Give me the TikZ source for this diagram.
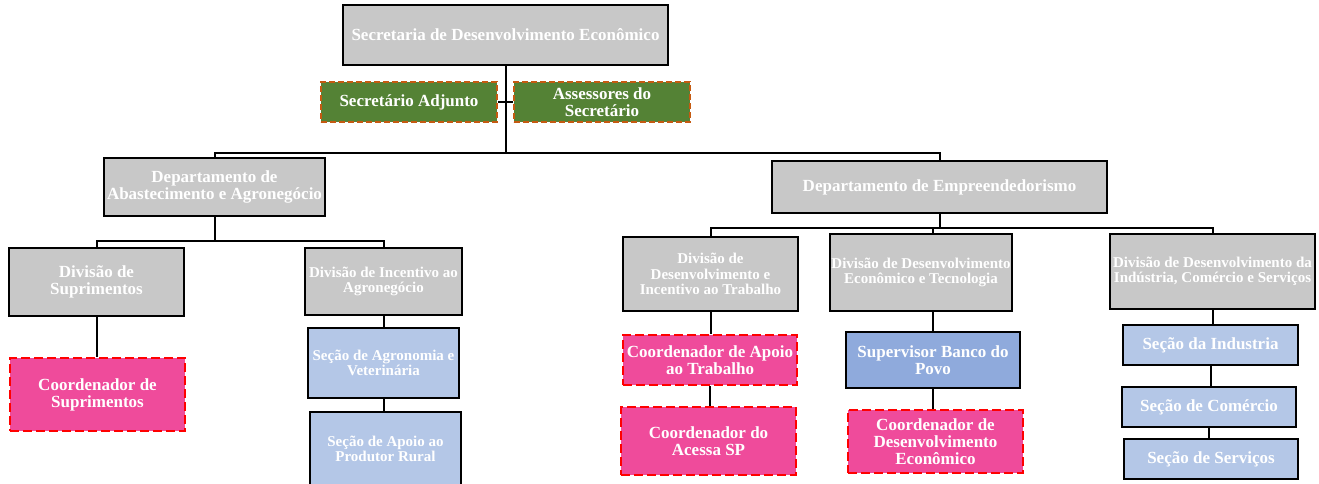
\documentclass[tikz,border=0pt]{standalone}
\usepackage{fontspec}
\setmainfont{Liberation Serif}
\definecolor{boxgray}{HTML}{C8C8C8}
\definecolor{leafgreen}{HTML}{548235}
\definecolor{rustorange}{HTML}{C55A11}
\definecolor{rosepink}{HTML}{EF4B9B}
\definecolor{paleblue}{HTML}{B4C7E7}
\definecolor{midblue}{HTML}{8FAADC}
\newcommand{\bigtxt}{\bfseries\fontsize{17}{17}\selectfont}
\newcommand{\smalltxt}{\bfseries\fontsize{15}{15.5}\selectfont}
\begin{document}
\begin{tikzpicture}[x=1pt,y=-1pt,
  box/.style={rectangle, inner sep=0pt, align=center, text=white, font=\bigtxt},
  graybox/.style={box, draw=black, line width=2.2pt, fill=boxgray},
  greenbox/.style={box, draw=rustorange, line width=2.4pt, dash pattern=on 6pt off 3pt, fill=leafgreen},
  pinkbox/.style={box, draw=red, line width=2.8pt, dash pattern=on 9pt off 4pt, fill=rosepink},
  bluebox/.style={box, draw=black, line width=2.2pt, fill=paleblue},
  darkbluebox/.style={box, draw=black, line width=2.2pt, fill=midblue},
  small/.style={font=\smalltxt},
  conn/.style={draw=black, line width=2pt}]
\useasboundingbox (0,0) rectangle (1319,483);

% top level
\node[graybox, minimum width=325pt, minimum height=60pt] (sec) at (505.5,35) {Secretaria de Desenvolvimento Econômico};
\node[greenbox, minimum width=176pt, minimum height=40pt] (adj) at (409,102) {Secretário Adjunto};
\node[greenbox, minimum width=176pt, minimum height=40pt] (ass) at (602,102) {Assessores do\\Secretário};

% departments
\node[graybox, minimum width=221pt, minimum height=58pt] (dab) at (214.5,187) {Departamento de\\Abastecimento e Agronegócio};
\node[graybox, minimum width=335pt, minimum height=52pt] (dem) at (939.5,187) {Departamento de Empreendedorismo};

% divisions
\node[graybox, minimum width=175pt, minimum height=68pt] (dsu) at (96.5,282) {Divisão de\\Suprimentos};
\node[graybox, small, minimum width=157pt, minimum height=67pt] (din) at (383.5,281.5) {Divisão de Incentivo ao\\Agronegócio};
\node[graybox, small, minimum width=175pt, minimum height=74pt] (dtr) at (710.5,274) {Divisão de\\Desenvolvimento e\\Incentivo ao Trabalho};
\node[graybox, small, minimum width=182pt, minimum height=77pt] (dte) at (921,272.5) {Divisão de Desenvolvimento\\Econômico e Tecnologia};
\node[graybox, small, minimum width=205pt, minimum height=75pt] (dis) at (1212.5,271.5) {Divisão de Desenvolvimento da\\Indústria, Comércio e Serviços};

% sections and coordinators
\node[pinkbox, minimum width=175pt, minimum height=73pt] (csu) at (97.5,394.5) {Coordenador de\\Suprimentos};
\node[bluebox, small, minimum width=151pt, minimum height=70pt] (sag) at (383.5,363) {Seção de Agronomia e\\Veterinária};
\node[bluebox, small, minimum width=151pt, minimum height=74pt] (sap) at (385.5,449) {Seção de Apoio ao\\Produtor Rural};
\node[pinkbox, minimum width=174pt, minimum height=50pt] (cap) at (710,360) {Coordenador de Apoio\\ao Trabalho};
\node[pinkbox, minimum width=175pt, minimum height=68pt] (cas) at (708.5,441) {Coordenador do\\Acessa SP};
\node[darkbluebox, minimum width=174pt, minimum height=56pt] (sbp) at (933,360) {Supervisor Banco do\\Povo};
\node[pinkbox, minimum width=175pt, minimum height=63pt] (cde) at (935.5,441.5) {Coordenador de\\Desenvolvimento\\Econômico};
\node[bluebox, minimum width=175pt, minimum height=40pt] (sin) at (1210.5,345) {Seção da Industria};
\node[bluebox, minimum width=174pt, minimum height=40pt] (sco) at (1209,407) {Seção de Comércio};
\node[bluebox, minimum width=174pt, minimum height=40pt] (sse) at (1211,459) {Seção de Serviços};

% connectors: secretariat and departments
\draw[conn] (sec.south) -- ++(0,87) coordinate (j0);
\draw[conn] (adj.east) -- (ass.west);
\draw[conn] (j0) -| (dab.north);
\draw[conn] (j0) -| (dem.north);

% connectors: supply and agribusiness branch
\draw[conn] (dab.south) -- ++(0,24) coordinate (j1);
\draw[conn] (j1) -| (dsu.north);
\draw[conn] (j1) -| (din.north);
\draw[conn] (dsu.south) -- (dsu.south |- csu.north);
\draw[conn] (din.south) -- (din.south |- sag.north);
\draw[conn] (sag.south) -- (sag.south |- sap.north);

% connectors: entrepreneurship branch
\draw[conn] (dem.south) -- ++(0,14) coordinate (j2);
\draw[conn] (j2) -| (dtr.north);
\draw[conn] (j2) -| ([xshift=12pt]dte.north);
\draw[conn] (j2) -| (dis.north);
\draw[conn] (dtr.south) -- (dtr.south |- cap.north);
\draw[conn] (cap.south) -- (cap.south |- cas.north);
\draw[conn] ([xshift=12pt]dte.south) -- (sbp.north);
\draw[conn] (sbp.south) -- (sbp.south |- cde.north);
\draw[conn] (dis.south) -- (dis.south |- sin.north);
\draw[conn] (sin.south) -- (sin.south |- sco.north);
\draw[conn] (sco.south) -- (sco.south |- sse.north);
\end{tikzpicture}
\end{document}
